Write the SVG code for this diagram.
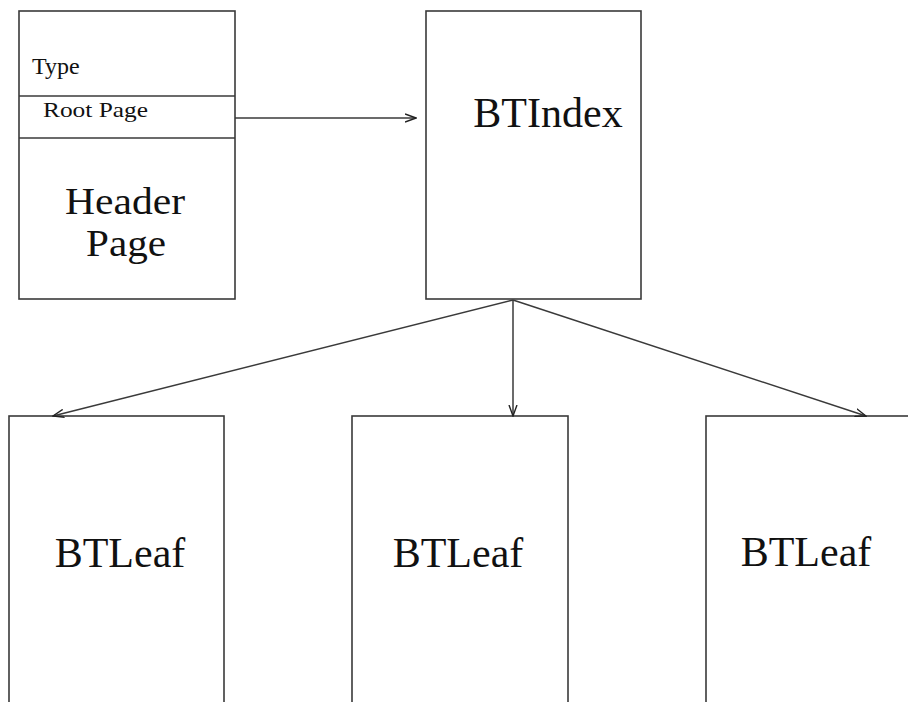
<svg xmlns="http://www.w3.org/2000/svg" width="908" height="702" viewBox="0 0 908 702">
  <style>
    .box { fill: #ffffff; stroke: #3a3a3a; stroke-width: 1.6; }
    .rule { stroke: #3a3a3a; stroke-width: 1.6; }
    .edge { fill: none; stroke: #3a3a3a; stroke-width: 1.5; marker-end: url(#open); }
    .big { font-family: "Liberation Serif", "Times New Roman", serif; font-size: 42px; fill: #111; text-anchor: middle; }
    .small { font-family: "Liberation Serif", "Times New Roman", serif; fill: #111; }
  </style>
  <defs>
    <marker id="open" viewBox="0 0 12 10" refX="11" refY="5" markerWidth="12" markerHeight="10" markerUnits="userSpaceOnUse" orient="auto">
      <path d="M0,1 L11,5 L0,9" fill="none" stroke="#222" stroke-width="1.4"/>
    </marker>
  </defs>
  <rect width="908" height="702" fill="#ffffff"/>

  <g id="header-page">
    <rect class="box" x="19" y="11" width="216" height="288"/>
    <line class="rule" x1="19" y1="96" x2="235" y2="96"/>
    <line class="rule" x1="19" y1="138" x2="235" y2="138"/>
    <text class="small" x="32" y="74" font-size="24">Type</text>
    <text class="small" x="43" y="117" font-size="21" textLength="105" lengthAdjust="spacingAndGlyphs">Root Page</text>
    <text class="big" x="125" y="214" style="font-size:37px" textLength="120" lengthAdjust="spacingAndGlyphs">Header</text>
    <text class="big" x="126" y="256" style="font-size:37px" textLength="80" lengthAdjust="spacingAndGlyphs">Page</text>
  </g>

  <g id="bt-index">
    <rect class="box" x="426" y="11" width="215" height="288"/>
    <text class="big" x="548" y="127">BTIndex</text>
  </g>

  <g id="bt-leaf-1">
    <rect class="box" x="9" y="416" width="215" height="300"/>
    <text class="big" x="120" y="567">BTLeaf</text>
  </g>

  <g id="bt-leaf-2">
    <rect class="box" x="352" y="416" width="216" height="300"/>
    <text class="big" x="458" y="567">BTLeaf</text>
  </g>

  <g id="bt-leaf-3">
    <rect class="box" x="706" y="416" width="220" height="300"/>
    <text class="big" x="806" y="566">BTLeaf</text>
  </g>

  <g id="connectors">
    <line class="edge" x1="235" y1="118" x2="416" y2="118"/>
    <line class="edge" x1="513" y1="300" x2="53" y2="416"/>
    <line class="edge" x1="513" y1="300" x2="513" y2="416"/>
    <line class="edge" x1="513" y1="300" x2="866" y2="416"/>
  </g>
</svg>
